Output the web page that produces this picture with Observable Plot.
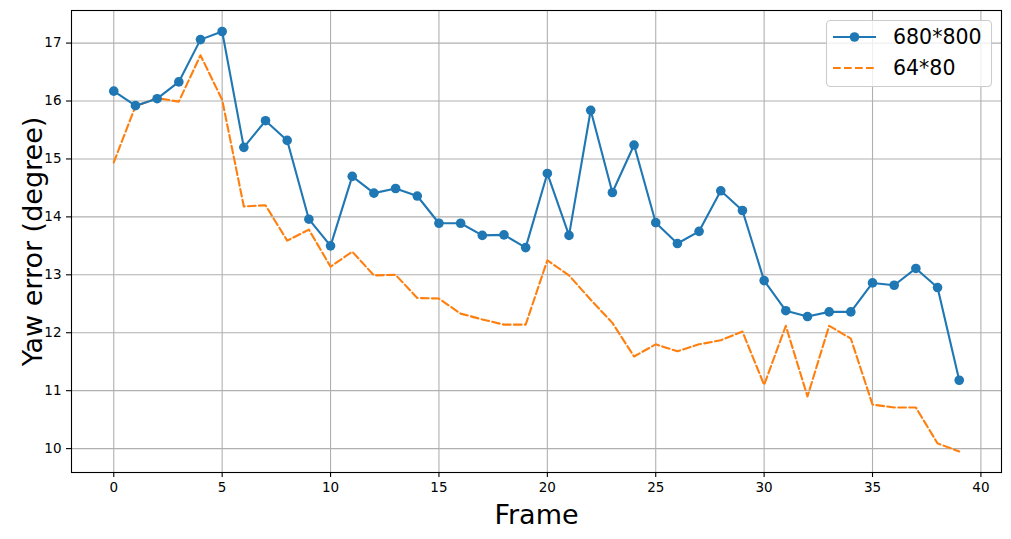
<!DOCTYPE html>
<html>
<head>
<meta charset="utf-8">
<script src="https://cdn.jsdelivr.net/npm/d3@7"></script>
<script src="https://cdn.jsdelivr.net/npm/@observablehq/plot@0.6"></script>
<style>
  html, body { margin: 0; padding: 0; background: #fff; }
  #chart svg { display: block; }
</style>
</head>
<body>
<div id="chart"></div>
<script>
const frames = d3.range(0, 40);
const seriesNames = ["680*800", "64*80"];
const hiRes = [16.17, 15.92, 16.04, 16.33, 17.06, 17.20, 15.20, 15.66, 15.32, 13.96,
               13.50, 14.70, 14.41, 14.49, 14.36, 13.89, 13.89, 13.68, 13.69, 13.47,
               14.75, 13.68, 15.84, 14.42, 15.24, 13.90, 13.54, 13.75, 14.45, 14.11,
               12.90, 12.38, 12.28, 12.36, 12.36, 12.86, 12.82, 13.11, 12.78, 11.18];
const loRes = [14.94, 15.91, 16.05, 15.99, 16.79, 16.02, 14.18, 14.20, 13.59, 13.78,
               13.14, 13.40, 12.99, 13.00, 12.60, 12.59, 12.33, 12.23, 12.14, 12.14,
               13.25, 12.99, 12.57, 12.17, 11.59, 11.80, 11.68, 11.80, 11.87, 12.02,
               11.10, 12.12, 10.90, 12.12, 11.90, 10.76, 10.71, 10.71, 10.09, 9.95];
const xTicks = [0, 5, 10, 15, 20, 25, 30, 35, 40];
const yTicks = [10, 11, 12, 13, 14, 15, 16, 17];
const xLabel = "Frame";
const yLabel = "Yaw error (degree)";
const colors = ["#1f77b4", "#ff7f0e"];

const hiData = frames.map((f, i) => ({frame: f, value: hiRes[i]}));
const loData = frames.map((f, i) => ({frame: f, value: loRes[i]}));

const font = "'DejaVu Sans', sans-serif";

const plot = Plot.plot({
  width: 1011,
  height: 539,
  marginLeft: 71,
  marginRight: 10,
  marginTop: 10,
  marginBottom: 67,
  style: {fontFamily: font, background: "#fff", color: "#000"},
  x: {domain: [-1.95, 40.95], label: null},
  y: {domain: [9.5875, 17.5625], label: null},
  marks: [
    Plot.gridX(xTicks, {stroke: "#b0b0b0", strokeOpacity: 1, strokeWidth: 1.1}),
    Plot.gridY(yTicks, {stroke: "#b0b0b0", strokeOpacity: 1, strokeWidth: 1.1}),
    Plot.axisX(xTicks, {tickSize: 5, tickPadding: 5, fontSize: 13.5, strokeWidth: 1.1, stroke: "#000", fill: "#000", label: null, tickFormat: d => String(d)}),
    Plot.axisY(yTicks, {tickSize: 5, tickPadding: 5, fontSize: 13.5, strokeWidth: 1.1, stroke: "#000", fill: "#000", label: null, tickFormat: d => String(d)}),
    Plot.line(loData, {x: "frame", y: "value", stroke: colors[1], strokeWidth: 2.1, strokeDasharray: "7.7,3.3"}),
    Plot.line(hiData, {x: "frame", y: "value", stroke: colors[0], strokeWidth: 2.1}),
    Plot.dot(hiData, {x: "frame", y: "value", fill: colors[0], r: 4.8, stroke: "none"}),
    Plot.frame({stroke: "#000", strokeWidth: 1.1}),
    Plot.text([xLabel], {frameAnchor: "bottom", dy: 51, fontSize: 27, fill: "#000", lineAnchor: "bottom", textAnchor: "middle"}),
    Plot.text([yLabel], {frameAnchor: "left", dx: -38, rotate: -90, fontSize: 27, fill: "#000", textAnchor: "middle", lineAnchor: "middle"})
  ]
});

document.getElementById("chart").appendChild(plot);

// Legend (matplotlib style, upper right)
const svg = d3.select(plot);
const lg = svg.append("g");
lg.append("rect")
  .attr("x", 826.5).attr("y", 20.5).attr("width", 165).attr("height", 66)
  .attr("rx", 4).attr("ry", 4)
  .attr("fill", "#fff").attr("fill-opacity", 0.8)
  .attr("stroke", "#cccccc").attr("stroke-width", 1.1);
const rows = [37, 68];
seriesNames.forEach((name, i) => {
  const y = rows[i];
  const line = lg.append("line")
    .attr("x1", 833).attr("x2", 876).attr("y1", y).attr("y2", y)
    .attr("stroke", colors[i]).attr("stroke-width", 2.1);
  if (i === 1) line.attr("stroke-dasharray", "7.7,3.3");
  if (i === 0) lg.append("circle").attr("cx", 854.5).attr("cy", y).attr("r", 4.8).attr("fill", colors[i]);
  lg.append("text")
    .attr("x", 893).attr("y", y).attr("dy", "0.36em")
    .attr("text-anchor", "start")
    .attr("font-size", 20.5).attr("font-family", font).attr("fill", "#000")
    .text(name);
});
</script>
</body>
</html>
